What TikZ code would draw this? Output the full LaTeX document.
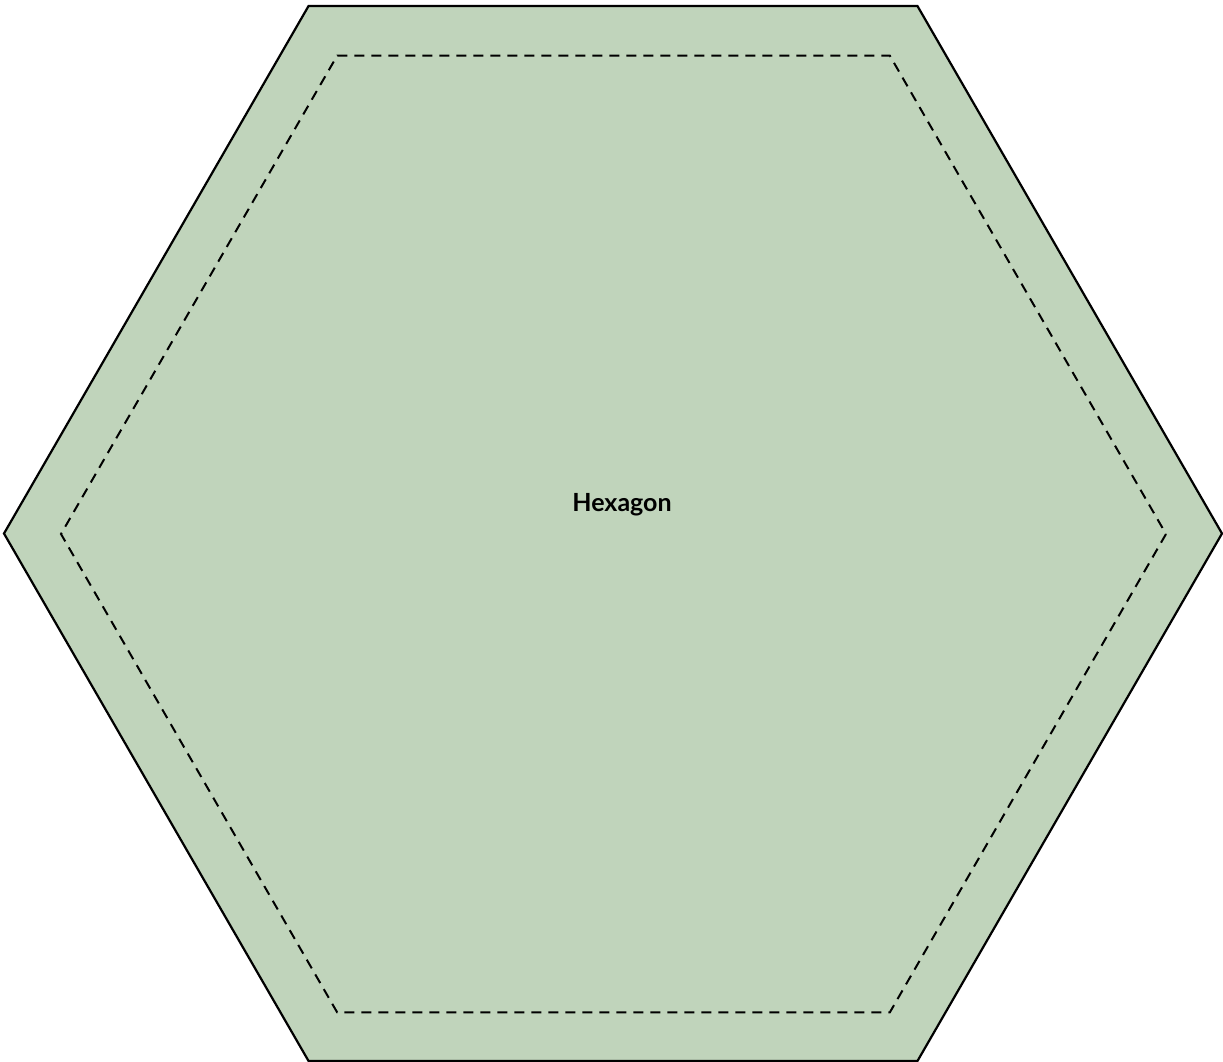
\documentclass[tikz,border=0pt]{standalone}
\usepackage{fontspec}
\setmainfont{Lato}
\begin{document}
\begin{tikzpicture}[x=1pt,y=-1pt,
  outerhex/.style={fill=hexfill,draw=black,line width=2.2pt,line join=miter},
  innerhex/.style={draw=black,line width=2pt,dash pattern=on 10pt off 7pt},
  lbl/.style={font=\fontsize{25}{30}\selectfont\bfseries,text=black}]
\definecolor{hexfill}{RGB}{192,212,187}
\useasboundingbox (0,0) rectangle (1223,1061);
\coordinate (c) at (613,533.5);
\draw[outerhex] (c) ++(0:609) -- ++(120:609) -- ++(180:609) -- ++(240:609) -- ++(300:609) -- ++(0:609) -- cycle;
\draw[innerhex] (613.5,534) ++(0:552.5) -- ++(120:552.5) -- ++(180:552.5) -- ++(240:552.5) -- ++(300:552.5) -- ++(0:552.5) -- cycle;
\node[lbl] (t) at (622,505) {Hexagon};
\end{tikzpicture}
\end{document}
